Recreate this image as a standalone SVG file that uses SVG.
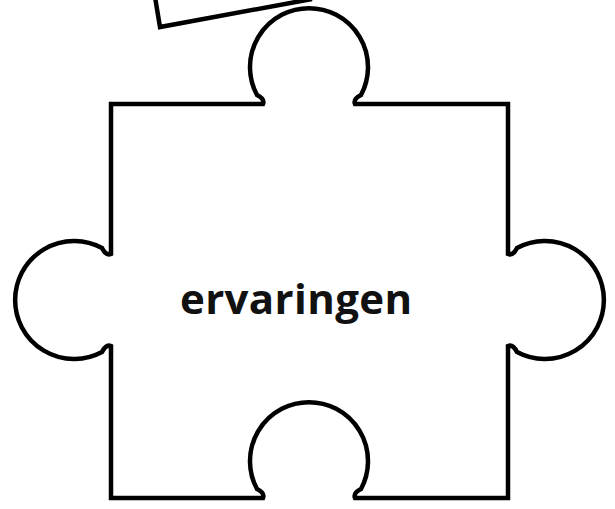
<svg xmlns="http://www.w3.org/2000/svg" width="615" height="509" viewBox="0 0 615 509">
<style>
.outline{fill:#fff;stroke:#000;stroke-width:4.5;stroke-linejoin:miter}
.lbl{font-family:"Open Sans","Liberation Sans",sans-serif;font-weight:bold;font-size:42px;fill:#111}
</style>
<rect width="615" height="509" fill="#fff"/>
<g id="piece-fragment">
<path class="outline" fill="none" d="M 155 -3 L 160 27 L 312 -1"/>
</g>
<g id="piece-ervaringen">
<path class="outline" d="M 111 104 L 263 104 Q 265 99 257 95 A 59 59 0 1 1 361 95 Q 353 99 355 104 L 508 104 L 508 254 Q 513 256 517 248 A 59 59 0 1 1 517 352 Q 513 344 508 346 L 508 498 L 355 498 Q 353 493 361 489 A 59 59 0 1 0 257 489 Q 265 493 263 498 L 111 498 L 111 346 Q 106 344 102 352 A 59 59 0 1 1 102 248 Q 106 256 111 254 Z"/>
<text class="lbl" x="296" y="314" text-anchor="middle" textLength="232" lengthAdjust="spacing">ervaringen</text>
</g>
</svg>
